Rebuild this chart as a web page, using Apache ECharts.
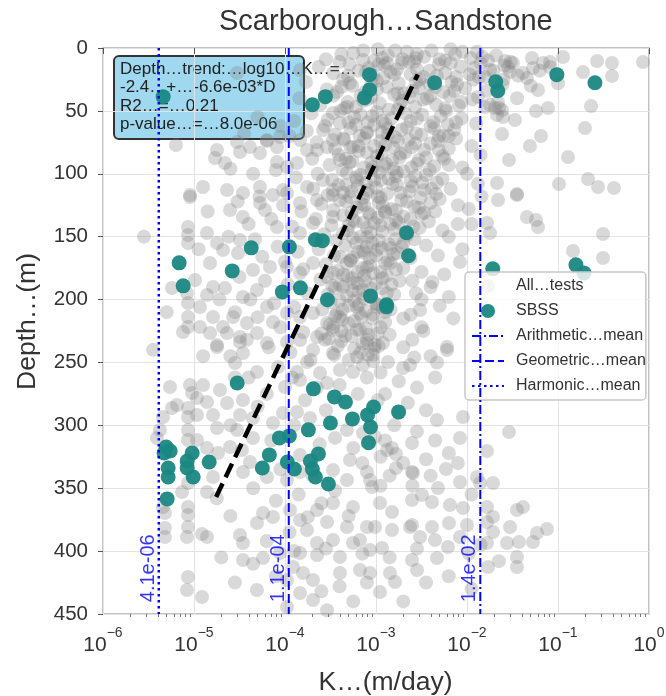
<!DOCTYPE html>
<html><head><meta charset="utf-8">
<script src="https://cdn.jsdelivr.net/npm/echarts@6/dist/echarts.min.js"></script>
<style>html,body{margin:0;padding:0;background:#fff}#c{width:666px;height:696px}</style>
</head><body><div id="c"></div><script>
const FONT = '"Liberation Sans", Arial, Helvetica, sans-serif';
const chartTitle = 'Scarborough…Sandstone';
const xName = 'K…(m/day)';
const yName = 'Depth…(m)';
const legendNames = ['All…tests', 'SBSS', 'Arithmetic…mean', 'Geometric…mean', 'Harmonic…mean'];
const yTicks = [0, 50, 100, 150, 200, 250, 300, 350, 400, 450];
const arithmeticMean = 1.4e-2, geometricMean = 1.1e-4, harmonicMean = 4.1e-6;
const meanLabelText = ['1.4e-02', '1.1e-04', '4.1e-06'];
const meanLabelDepth = 441;
const trendK = [1.75e-5, 2.88e-3];
const trendDepth = [357, 21];
const fitLines = ['Depth…trend:…log10…K…=…', '-2.4…+…-6.6e-03*D', 'R2…=…0.21', 'p-value…=…8.0e-06'];

// SBSS tests: [log10 K (m/day), depth (m)]
const sbss = [
[-3.071,21.2],[-3.07,33.2],[-3.127,39.5],[-3.699,45.1],[-3.556,38.7],[-2.356,27.6],[-1.684,26.8],[-1.662,34.0],[-1.013,21.2],[-0.594,27.6],
[-5.163,170.8],[-5.119,189.1],[-4.58,177.2],[-4.371,158.9],[-3.952,158.1],[-3.666,152.5],[-3.589,153.3],[-4.029,193.9],[-3.831,190.7],[-3.534,200.2],
[-3.06,197.1],[-2.664,146.9],[-2.642,165.2],[-1.717,175.6],[-0.803,172.4],[-0.715,178.8],[-2.884,204.2],[-2.884,205.8],[-4.525,266.3],[-3.688,271.0],
[-3.457,277.4],[-3.336,281.4],[-3.027,285.4],[-3.093,291.7],[-3.259,294.9],[-3.501,298.1],[-3.06,301.3],[-3.082,313.9],[-3.743,303.6],[-4.062,310.0],
[-3.952,308.4],[-5.306,317.2],[-5.262,320.4],[-5.328,322.0],[-5.02,322.0],[-5.075,328.4],[-5.284,333.9],[-5.075,333.9],[-5.284,341.1],[-5.009,341.1],
[-4.833,329.1],[-4.172,323.5],[-3.633,322.7],[-4.249,333.9],[-3.974,329.1],[-3.897,334.7],[-3.721,328.4],[-3.699,334.7],[-3.666,341.1],[-3.523,346.6],
[-5.295,358.5],[-2.752,289.3],[-5.339,38.7]
];

// All tests: [log10 K (m/day), depth (m)]
const allTests = [
// shallow, high K
[-2.56,8],[-2.879,11.9],[-1.582,10.3],[-1.495,11.9],[-1.286,8],[-1.088,11.1],[-0.945,7.2],[-0.571,10.3],[-0.407,11.9],[-0.066,11.1],
[-0.725,19.1],[-0.407,22.3],[-1.22,33.4],[-1.11,47.7],[-1.242,50.1],[-0.637,46.1],[-0.703,63.6],[-1.187,70],[-1.308,77.9],[-0.89,86.7],
[-1.538,89],[-1.615,68.4],[-1.473,57.2],[-1.648,47.7],[-1.67,53.3],[-0.989,108.1],[-0.67,104.1],[-0.56,110.5],[-0.385,111.3],[-1.67,107.3],
[-1.451,116.1],[-1.385,19.9],[-1.341,23.9],[-1.527,19.1],[-1.615,49.3],[-1.604,54.9],[-1.692,47.7],[-1.088,15.1],[-1.165,11.9],[-1.275,15.9],
[-1.747,17.5],[-1.802,23.1],[-1.659,42.9],
[-1.341,134.4],[-1.242,136.7],[-1.22,142.3],[-0.505,147.9],[-0.835,161.4],[-0.505,167],[-2.077,170.1],[-1.78,139.1],[-1.747,147.1],[-1.451,116.9],
[-1.659,120.8],[-2.516,208.3],[-2.22,237.7],
// deep, mid-high K
[-2.923,234.5],[-2.22,240.1],[-2.703,254.4],[-2.626,252],[-3.033,244.1],[-2.868,249.6],[-2.33,295.8],[-2.044,293.4],[-1.538,305.3],[-2.077,310.1],
[-1.78,320.4],[-2.604,314],[-2.879,319.6],[-2.78,333.9],[-2.593,337.9],[-2.231,334.7],[-1.89,341.1],[-1.857,345.8],[-1.714,345.8],[-2.077,345],
[-2.319,349.8],[-2.495,355.4],[-2.604,359.4],[-2.385,360.9],[-2.187,363.4],[-2.044,365.8],[-1.78,365],[-1.451,367.3],[-1.385,365],[-2.956,361.7],
[-2.824,368.9],[-2.604,379.2],[-2.385,380.8],[-2.198,377.6],[-2,379.2],[-1.78,376.8],[-1.714,372.8],[-1.527,380.8],[-1.429,392.7],[-1.275,392.7],
[-1.231,385.6],[-1.121,382.4],[-1.56,393.5],[-1.714,384.8],[-1.78,393.5],[-2.077,388.8],[-2.209,396.7],[-2.352,391.2],[-2.516,388.8],[-2.626,380.8],
[-2.824,383.2],[-3.011,380.8],[-2.934,397.5],[-2.604,407.1],[-2.549,415],[-2.33,405.5],[-1.769,412.6],[-1.451,412.6],[-1.451,404.7],[-2.846,417.4],
[-2.791,424.5],[-2.956,432.5],[-3.011,236.1],[-2.824,318],[-2.78,322.8],[-2.604,337.1],[-3.066,343.5],
// deep, low-mid K
[-4.747,236.1],[-4.495,233.7],[-3.978,233.7],[-3.692,240.1],[-3.473,242.5],[-3.209,245.7],[-3.088,244.1],[-4.462,242.5],[-4.549,250.4],[-4.308,257.6],
[-4.077,253.6],[-3.868,257.6],[-3.758,249.6],[-3.615,258.4],[-3.396,256],[-3.253,257.6],[-3.143,252],[-3.538,266.3],[-3.835,263.9],[-4,269.5],
[-5.264,269.5],[-5.044,267.9],[-5.022,274.3],[-4.967,278.3],[-4.714,271.9],[-4.857,281.4],[-4.637,282.2],[-4.462,279.9],[-5.187,283.8],[-5.242,286.2],
[-5.066,286.2],[-5.066,293.4],[-5.341,293.4],[-4.967,291.8],[-4.791,291.8],[-4.495,291.8],[-4.352,294.2],[-4.132,298.1],[-4.022,290.2],[-3.868,289.4],
[-3.725,294.2],[-3.319,303.7],[-3.143,306.1],[-3.011,309.3],[-4.747,302.1],[-4.527,303.7],[-4.352,310.1],[-4.967,311.7],[-5.407,310.1],[-5.374,303.7],
[-5.066,303.7],[-5.066,311.7],[-4.857,318],[-4.736,322],[-4.604,317.2],[-4.473,319.6],[-4.385,329.1],[-4.462,337.1],[-4.198,341.1],[-3.978,343.5],
[-3.835,337.1],[-3.835,323.6],[-3.473,335.5],[-3.286,327.6],[-3.099,337.1],[-3.044,349],[-3.319,343.5],[-5.132,353],[-4.857,353],[-4.791,341.1],
[-5.066,345.8],[-5.066,364.9],[-5.341,364.9],[-5.319,369.7],[-5.066,371.3],[-5.066,380.8],[-5.319,381.6],[-5.077,388.8],[-5.319,388.8],[-4.912,386.4],
[-4.857,388.8],[-4.495,387.2],[-4.462,393.5],[-4.308,377.6],[-4.242,369.7],[-4.132,372.9],[-3.945,367.3],[-3.835,375.3],[-3.648,367.3],[-3.473,361.7],
[-3.253,364.9],[-3.758,383.2],[-3.538,376.8],[-3.319,380.8],[-3.099,380.8],[-3.648,393.5],[-3.473,391.2],[-3.253,393.5],[-3.835,401.5],[-3.648,403.1],
[-4.055,401.5],[-4.242,405.5],[-4.462,407.1],[-3.912,412.6],[-3.802,417.4],[-3.692,423],[-3.978,423],[-3.835,433.3],[-3.692,438.9],[-3.978,444.4],
[-3.396,417.4],[-3.176,415],[-3.066,417.4],[-5.066,420.6],[-5.077,430.9],[-4.912,436.5],[-4.308,430.9],[-3.538,447],[-3.396,404.7],[-3.066,399.1],
[-3.176,391.2],
[-3.92,262],[-3.65,270],[-3.4,268],[-3.2,275],[-2.98,280],[-3.78,280],[-3.55,288],[-4.2,275],[-4.4,262],[-3.1,262],
[-2.75,290],[-3.9,300],[-3.45,310],[-3.62,315],[-3.25,318],[-4.15,312],[-4.3,285],[-2.9,312],[-3.15,330],[-4.05,335],
[-3.7,340],[-2.95,348],[-3.45,352],[-3.85,355],[-4.1,360],[-3.6,362],[-4.35,350],[-3.3,372],[-3.95,385],[-3.75,373],
[-4.2,392],[-3.55,398],[-3.15,402],[-2.85,405],[-3.4,428],[-3.9,400],[-4.1,420],[-3.25,440],[-2.7,440],[-2.45,425],
[-2.2,420],[-1.98,402],[-1.85,395],[-1.65,408],[-1.95,430],[-2.55,398],[-4.35,410],[-4.55,425],[-3.6,432],[-3.1,425],
[-4.7,405],[-4.6,372],[-4.75,358],[-4.6,300],[-4.9,268],[-4.55,262],
// middle depths
[-5.044,116.9],[-4.857,147.1],[-5.066,142.3],[-5.066,148.7],[-5.066,155],[-4.747,155],[-4.681,160.6],[-4.516,163],[-4.495,152.6],[-4.604,128.8],
[-4.462,134.4],[-4.275,123.2],[-4.22,128.8],[-4.132,116.9],[-3.978,115.3],[-3.835,123.2],[-3.648,120.8],[-3.473,116.9],[-3.286,118.5],[-3.099,115.3],
[-4.088,142.3],[-3.835,147.1],[-3.692,139.1],[-3.473,134.4],[-3.253,136.7],[-3.066,132.8],[-3.363,147.1],[-3.099,150.3],[-3.396,166.2],[-3.253,166.2],
[-3.099,174.1],[-2.989,160.6],[-3.473,178.9],[-3.363,190],[-3.253,186.8],[-3.143,192.4],[-2.989,205.9],[-3.209,205.9],[-3.396,213.9],[-3.538,218.6],
[-3.692,210.7],[-3.835,213.9],[-3.978,210.7],[-4.132,217.8],[-4.198,205.9],[-4.308,192.4],[-4.462,198],[-4.352,176.5],[-4.165,174.1],[-3.978,174.1],
[-3.835,178.9],[-3.692,170.9],[-3.538,182.1],[-4.824,170.9],[-4.791,190],[-4.659,190.8],[-4.857,196.4],[-4.989,184.5],[-5.077,194.8],[-5.242,190.8],
[-5.066,202.7],[-5.066,213.9],[-5.066,221.8],[-5.121,225.8],[-4.934,205.9],[-4.934,221.8],[-4.791,213.9],[-4.681,221.8],[-4.571,213.9],[-4.418,218.6],
[-4.308,226.6],[-4.495,229.8],[-4.637,226.6],[-4.824,226.6],[-4.747,237.7],[-4.198,234.5],[-3.835,232.1],[-3.648,229.8],[-3.473,224.2],[-3.176,224.2],
[-3.099,234.5],
[-4.3,55],[-4.05,62],[-3.9,58],[-4.45,68],[-4.2,74],[-3.95,70],[-4.6,96],[-4.35,100],[-4.1,97],[-3.88,103],
[-4.52,122],[-4.28,118],[-4.02,125],[-3.82,130],[-4.4,140],[-4.15,136],[-3.92,142],[-4.62,150],[-4.33,152],[-4.08,158],
[-3.86,162],[-4.25,166],[-4.0,170],[-3.8,176],[-4.5,182],[-4.22,185],[-3.97,188],[-3.75,195],[-4.38,200],[-4.12,203],
[-3.9,206],[-4.55,210],[-4.3,214],[-4.05,222],[-3.8,226],[-4.42,232],[-4.18,238],[-3.94,242],[-3.72,248],[-4.6,245],
[-4.85,130],[-4.95,160],[-4.72,200],[-4.9,245],[-5.3,210],[-5.45,240],[-5.55,150],
// upper left
[-5.198,77.1],[-4.747,81.1],[-4.769,87.5],[-4.659,91.4],[-4.527,74.7],[-4.495,82.7],[-4.385,78.7],[-4.275,83.5],[-4.198,73.1],[-4.088,78.7],
[-4.055,70.8],[-4.088,90.6],[-3.978,94.6],[-3.868,91.4],[-3.758,81.1],[-3.835,73.1],[-3.648,81.1],[-3.538,78.7],[-3.473,73.1],[-3.396,59.6],
[-3.319,46.9],[-3.286,27.8],[-3.143,9.5],[-3.473,51.7],[-3.582,65.2],[-3.396,89],[-3.253,78.7],[-3.099,67.6],[-3.319,99.4],[-3.209,104.9],
[-3.033,94.6],[-4.901,110.5],[-5.044,118.5],[-4.637,112.9],[-4.462,115.3],[-4.275,110.5],[-4.022,112.9],[-3.758,110.5],[-3.582,104.9],[-3.473,112.9],
[-4.527,19.9],[-3.835,17.5],
// mid-right scatter
[-2.9,210],[-2.7,215],[-2.5,222],[-2.85,228],[-2.6,232],[-2.4,245],[-2.95,258],[-2.75,265],[-2.55,270],[-2.35,262],
[-2.9,275],[-2.65,282],[-2.45,288],[-2.8,300],[-2.55,305],[-2.35,312],[-2.95,325],[-2.7,330],[-2.45,327],[-2.2,322],
[-2.85,340],[-2.6,348],[-2.4,340],[-2.1,330],[-1.95,355],[-2.4,190],[-2.3,205],[-2.15,215],[-2.5,200],[-2.25,180],
[-2.05,160],[-2.2,150],[-2.35,130],[-2.1,125],[-1.95,140],[-2.0,100],[-1.85,85],[-2.2,70],[-1.9,60],[-1.75,45],
[-1.6,25],[-1.45,40],[-1.3,30],[-1.2,18],[-1.55,15],[-1.0,28],
[-2.12,72],[-1.95,78],[-2.25,88],[-2.05,95],[-1.88,108],[-2.18,112],[-2.3,120],[-1.98,128],[-2.42,138],[-2.27,145],
[-2.45,157],[-2.32,165],[-2.5,178],[-2.38,186],[-2.56,195],[-2.2,198],[-2.62,212],[-2.48,225],[-2.7,238],[-2.33,250],
[-2.58,246],[-1.84,118],[-2.1,140],[-2.6,185],
// dense core
[-3.38,5],[-3.14,2],[-3.02,10],[-2.87,6],[-2.71,9],[-2.66,3],[-2.47,7],[-2.39,2],[-2.24,10],[-2.13,5],[-1.96,8],[-1.89,3],[-1.68,6],[-1.52,11],[-2.98,1],[-2.18,1],[-3.55,9],[-2.58,11],[-1.77,10],
[-3.63,15],[-3.47,20],[-3.29,13],[-3.19,18],[-3.03,22],[-2.91,14],[-2.84,19],[-2.72,12],[-2.55,17],[-2.48,23],[-2.31,13],[-2.24,20],[-2.07,15],[-1.97,21],[-1.85,12],[-1.71,18],[-1.59,14],[-1.44,22],[-3.08,16],[-2.62,21],[-2.12,23],
[-3.77,27],[-3.54,33],[-3.36,25],[-3.26,30],[-3.12,35],[-2.99,26],[-2.88,31],[-2.75,28],[-2.6,34],[-2.52,25],[-2.41,29],[-2.26,35],[-2.17,27],[-2.02,32],[-1.93,25],[-1.78,34],[-1.61,29],[-2.69,36],[-3.43,35],[-2.35,31],
[-3.84,40],[-3.61,45],[-3.47,38],[-3.31,43],[-3.22,47],[-3.05,39],[-2.96,44],[-2.8,37],[-2.71,42],[-2.57,47],[-2.44,40],[-2.34,45],[-2.19,38],[-2.09,46],[-1.94,41],[-1.8,47],[-2.63,39],[-3.14,42],
[-3.71,52],[-3.53,57],[-3.39,50],[-3.24,55],[-3.09,59],[-2.99,51],[-2.83,56],[-2.76,49],[-2.62,58],[-2.49,53],[-2.37,59],[-2.23,50],[-2.06,56],[-2.9,60],[-3.17,53],
[-3.76,66],[-3.56,62],[-3.45,69],[-3.28,64],[-3.18,70],[-3.02,61],[-2.94,67],[-2.79,71],[-2.66,63],[-2.56,68],[-2.4,62],[-2.31,70],[-2.14,65],[-3.36,72],[-2.87,64],
[-3.65,75],[-3.45,80],[-3.35,73],[-3.19,78],[-3.1,83],[-2.95,74],[-2.81,79],[-2.73,84],[-2.57,76],[-2.47,81],[-2.32,74],[-2.2,80],[-3.02,78],[-2.64,73],
[-3.7,88],[-3.51,93],[-3.41,85],[-3.26,90],[-3.13,95],[-2.99,86],[-2.89,92],[-2.74,87],[-2.61,95],[-2.53,89],[-2.36,94],[-2.27,86],[-3.05,91],[-2.81,96],
[-3.64,100],[-3.48,105],[-3.37,97],[-3.22,103],[-3.11,107],[-2.96,99],[-2.86,104],[-2.7,98],[-2.62,106],[-2.45,101],[-2.33,107],[-3.02,105],[-2.78,102],
[-3.69,112],[-3.53,117],[-3.41,109],[-3.27,114],[-3.14,119],[-3.0,111],[-2.88,116],[-2.77,109],[-2.63,114],[-2.51,119],[-2.39,112],[-2.95,119],[-3.2,110],
[-3.6,124],[-3.47,129],[-3.33,122],[-3.21,127],[-3.08,131],[-2.97,123],[-2.83,128],[-2.72,121],[-2.58,126],[-2.47,131],[-3.13,125],[-2.9,130],
[-3.66,136],[-3.49,141],[-3.36,133],[-3.23,138],[-3.1,143],[-2.98,135],[-2.84,140],[-2.7,134],[-2.59,142],[-3.02,139],[-2.78,137],
[-3.57,148],[-3.44,153],[-3.31,145],[-3.17,150],[-3.04,155],[-2.93,146],[-2.79,152],[-2.68,147],[-3.22,155],[-2.86,156],
[-3.63,160],[-3.46,165],[-3.34,157],[-3.2,162],[-3.07,167],[-2.94,159],[-2.81,164],[-2.72,158],[-3.13,163],
[-3.55,172],[-3.42,177],[-3.28,169],[-3.15,175],[-3.03,179],[-2.9,171],[-2.78,176],[-3.36,180],
[-3.61,184],[-3.48,189],[-3.32,181],[-3.2,187],[-3.06,191],[-2.93,183],[-2.83,188],[-3.12,185],
[-3.53,196],[-3.4,201],[-3.26,193],[-3.13,199],[-3.0,203],[-2.88,195],[-3.19,204],
[-3.59,208],[-3.45,213],[-3.3,205],[-3.18,211],[-3.04,215],[-2.92,207],[-3.37,216],
[-3.51,220],[-3.38,225],[-3.24,217],[-3.11,223],[-2.98,227],[-3.6,227],
[-3.56,232],[-3.42,237],[-3.27,229],[-3.15,235],[-3.02,239],
// dense core, second layer
[-3.25,4],[-2.93,8],[-2.79,2],[-2.55,5],[-2.3,9],[-2.05,3],[-1.83,7],
[-3.4,11],[-3.11,19],[-2.97,13],[-2.77,17],[-2.64,11],[-2.41,18],[-2.18,12],[-1.92,16],
[-3.31,22],[-3.05,28],[-2.92,24],[-2.8,21],[-2.56,27],[-2.33,22],[-2.11,29],[-1.87,23],
[-3.38,31],[-3.17,38],[-2.99,33],[-2.76,36],[-2.53,32],[-2.4,38],[-2.14,34],[-1.88,39],
[-3.35,48],[-3.1,41],[-2.86,49],[-2.74,45],[-2.48,41],[-2.24,48],[-2.06,43],
[-3.3,59],[-3.04,54],[-2.93,58],[-2.68,52],[-2.55,56],[-2.29,54],[-2.12,59],
[-3.22,61],[-3.1,67],[-2.87,69],[-2.72,65],[-2.5,69],[-2.36,64],[-2.21,61],
[-3.28,79],[-3.13,72],[-2.9,77],[-2.76,74],[-2.61,79],[-2.4,76],[-2.26,70],
[-3.33,88],[-3.19,82],[-2.94,84],[-2.82,89],[-2.68,83],[-2.45,87],[-2.31,81],
[-3.29,91],[-3.05,97],[-2.91,94],[-2.77,99],[-2.55,92],[-2.41,97],[-2.2,93],
[-3.33,109],[-3.17,101],[-2.95,105],[-2.82,108],[-2.57,102],[-2.49,107],[-2.27,104],
[-3.36,115],[-3.09,113],[-2.98,118],[-2.73,115],[-2.6,110],[-2.34,116],[-2.47,113],
[-3.4,121],[-3.16,124],[-2.92,126],[-2.78,129],[-2.66,122],[-2.53,127],[-2.4,123],
[-3.27,131],[-3.14,139],[-2.9,131],[-2.75,139],[-2.62,136],[-2.5,132],
[-3.3,141],[-3.06,147],[-2.95,141],[-2.8,144],[-2.66,149],[-2.52,143],
[-3.25,151],[-3.1,158],[-2.97,153],[-2.84,159],[-2.7,155],[-2.58,152],
[-3.28,169],[-3.14,161],[-3.0,165],[-2.87,169],[-2.76,163],[-2.62,167],
[-3.32,171],[-3.2,178],[-3.07,173],[-2.95,178],[-2.84,171],[-2.7,175],
[-3.4,188],[-3.26,183],[-3.13,181],[-3.0,187],[-2.88,181],[-2.74,185],
[-3.45,191],[-3.32,197],[-3.19,194],[-3.06,198],[-2.93,191],[-2.8,196],
[-3.5,202],[-3.37,208],[-3.24,201],[-3.11,209],[-2.98,204],[-2.84,208],
[-3.43,211],[-3.3,219],[-3.16,214],[-3.03,212],[-2.9,218],
[-3.47,222],[-3.34,229],[-3.21,224],[-3.08,228],[-2.95,222],
[-3.52,231],[-3.38,233],[-3.24,239],[-3.1,232],[-2.97,237],
[-3.46,244],[-3.3,248],[-3.17,242],[-3.03,249]
];

const toK = p => [Math.pow(10, p[0]), p[1]];
const minorTicks = [];
for (let e = -6; e < 0; e++) for (let m = 2; m <= 9; m++) minorTicks.push(m * Math.pow(10, e));

function expLabel(v) {
  const e = Math.round(Math.log10(v));
  return '{b|10}{e|' + (e < 0 ? '\u2212' + (-e) : String(e)) + '}';
}

const chart = echarts.init(document.getElementById('c'), null, {renderer: 'canvas'});
const blue = '#0000ff';
chart.setOption({
  animation: false,
  backgroundColor: '#ffffff',
  textStyle: {fontFamily: FONT},
  title: {
    text: chartTitle, left: 214, top: 1,
    textStyle: {fontFamily: FONT, fontSize: 29, fontWeight: 'normal', color: '#333333', lineHeight: 32}
  },
  grid: {left: 103, right: 17, top: 48, bottom: 82, show: true, borderColor: '#b0b0b0', borderWidth: 1.5, containLabel: false, outerBoundsMode: 'none'},
  legend: {
    data: [
      {name: legendNames[0], itemStyle: {opacity: 0.08}},
      {name: legendNames[1]},
      {name: legendNames[2], itemStyle: {opacity: 0}},
      {name: legendNames[3], itemStyle: {opacity: 0}},
      {name: legendNames[4], itemStyle: {opacity: 0}}
    ],
    orient: 'vertical', left: 465, top: 272,
    backgroundColor: 'rgba(255,255,255,0.8)', borderColor: '#c8c8c8', borderWidth: 1.5, borderRadius: 4,
    padding: [6, 0, 6, 6], itemGap: 9, itemWidth: 32, itemHeight: 14,
    textStyle: {fontFamily: FONT, fontSize: 16, color: '#333333', padding: [0, 0, 0, 7]},
    selectedMode: false
  },
  xAxis: [{
    type: 'log', logBase: 10, min: 1e-6, max: 1, position: 'bottom',
    name: xName, nameLocation: 'middle', nameGap: 55,
    nameTextStyle: {fontFamily: FONT, fontSize: 26.5, color: '#333333', padding: [0, 0, 0, 19]},
    axisLine: {show: false},
    axisTick: {show: true, length: 6, lineStyle: {color: '#555555', width: 1}},
    splitLine: {show: true, lineStyle: {color: '#e3e3e3', width: 1}},
    axisLabel: {
      margin: 12, formatter: expLabel,
      rich: {
        b: {fontFamily: FONT, fontSize: 21, color: '#333333', lineHeight: 30, verticalAlign: 'bottom'},
        e: {fontFamily: FONT, fontSize: 14, color: '#333333', lineHeight: 14, verticalAlign: 'top'}
      }
    }
  }, {
    type: 'log', logBase: 10, min: 1e-6, max: 1, position: 'bottom',
    axisLine: {show: false}, splitLine: {show: false}, axisLabel: {show: false},
    axisTick: {show: true, length: 3, customValues: minorTicks, lineStyle: {color: '#555555', width: 0.8}}
  }],
  yAxis: {
    type: 'value', inverse: true, min: 0, max: 450, interval: 50,
    name: yName, nameLocation: 'middle', nameGap: 62, nameRotate: 90,
    nameTextStyle: {fontFamily: FONT, fontSize: 26.5, color: '#333333', padding: [0, 0, 0, 19]},
    axisLine: {show: false},
    axisTick: {show: true, length: 5, lineStyle: {color: '#555555'}},
    splitLine: {show: true, lineStyle: {color: '#e3e3e3', width: 1}},
    axisLabel: {fontFamily: FONT, fontSize: 20.5, color: '#333333', margin: 15, customValues: yTicks}
  },
  graphic: [{
    type: 'group', left: 113, top: 55, z: 100,
    children: [
      {type: 'rect', shape: {x: 0, y: 0, width: 190, height: 83, r: 5},
       style: {fill: 'rgba(135,206,235,0.8)', stroke: '#333333', lineWidth: 2}},
      {type: 'text', x: 6, y: 4,
       style: {text: fitLines.join('\n'), fontFamily: 'Liberation Sans', fontSize: 17, lineHeight: 18.4, fill: '#222222'}}
    ]
  }],
  series: [
    {name: 'All…tests', type: 'scatter', data: allTests.map(toK), symbolSize: 14,
     itemStyle: {color: '#808080', opacity: 0.3}, z: 2, silent: true, emphasis: {disabled: true}},
    {name: 'SBSS', type: 'scatter', data: sbss.map(toK), symbolSize: 15,
     itemStyle: {color: '#1a8783', opacity: 0.95}, z: 3, silent: true, emphasis: {disabled: true}},
    {name: 'trend', type: 'line', data: [[trendK[0], trendDepth[0]], [trendK[1], trendDepth[1]]], symbol: 'none',
     lineStyle: {color: '#000000', width: 4.5, type: [15, 7]}, z: 5, silent: true},
    {name: 'Arithmetic…mean', type: 'line', data: [[arithmeticMean, 0], [arithmeticMean, 450]], symbol: 'none',
     lineStyle: {color: blue, width: 2, type: [9, 3, 2, 3]}, itemStyle: {color: blue}, z: 4, silent: true},
    {name: 'Geometric…mean', type: 'line', data: [[geometricMean, 0], [geometricMean, 450]], symbol: 'none',
     lineStyle: {color: blue, width: 2, type: [9, 4]}, itemStyle: {color: blue}, z: 4, silent: true},
    {name: 'Harmonic…mean', type: 'line', data: [[harmonicMean, 0], [harmonicMean, 450]], symbol: 'none',
     lineStyle: {color: blue, width: 2.5, type: [2.5, 3.5]}, itemStyle: {color: blue}, z: 4, silent: true},
    {name: 'meanText', type: 'scatter', symbolSize: 1, itemStyle: {color: 'rgba(0,0,0,0)'}, z: 6, silent: true,
     data: [
       {value: [arithmeticMean, meanLabelDepth], name: meanLabelText[0]},
       {value: [geometricMean, meanLabelDepth], name: meanLabelText[1]},
       {value: [harmonicMean, meanLabelDepth], name: meanLabelText[2]}
     ],
     label: {show: true, formatter: '{b}', rotate: 90, position: [0, 0], align: 'left', verticalAlign: 'bottom',
       color: blue, fontFamily: FONT, fontSize: 20}}
  ]
});
</script></body></html>
